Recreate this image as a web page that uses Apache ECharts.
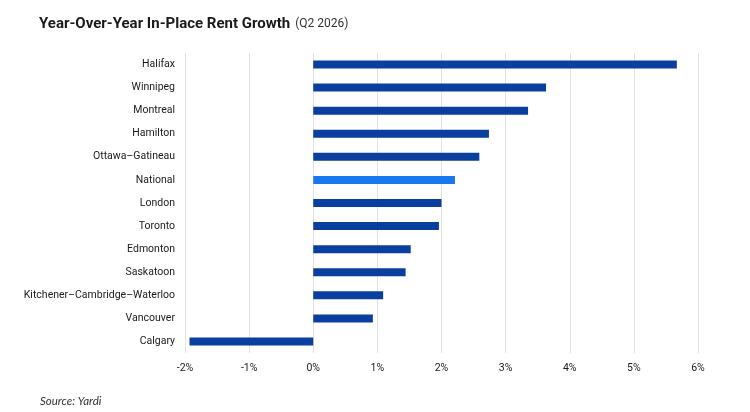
<!DOCTYPE html>
<html>
<head>
<meta charset="utf-8">
<script src="https://cdn.jsdelivr.net/npm/echarts@6/dist/echarts.min.js"></script>
<style>
  html, body { margin: 0; padding: 0; background: #fff; }
  #chart { width: 750px; height: 412px; }
</style>
</head>
<body>
<div id="chart"></div>
<script>
const markets = [
  "Halifax", "Winnipeg", "Montreal", "Hamilton", "Ottawa–Gatineau", "National",
  "London", "Toronto", "Edmonton", "Saskatoon", "Kitchener–Cambridge–Waterloo",
  "Vancouver", "Calgary",
];
const rentGrowth = [5.67, 3.63, 3.35, 2.74, 2.59, 2.21, 2.0, 1.96, 1.52, 1.44, 1.09, 0.93, -1.93];
const highlight = "National";

const barColor = "#0a3f9f";
const highlightColor = "#1679ef";

const chart = echarts.init(document.getElementById("chart"));

chart.setOption({
  animation: false,
  title: [
    {
      text: "{main|Year-Over-Year In-Place Rent Growth} {sub|(Q2 2026)}",
      left: 34,
      top: 10,
      textStyle: {
        rich: {
          main: {
            fontFamily: "Roboto",
            fontWeight: "bold",
            fontSize: 15,
            color: "#1a1a1a",
          },
          sub: {
            fontFamily: "Roboto",
            fontWeight: "normal",
            fontSize: 12,
            color: "#333",
          },
        },
      },
    },
    {
      text: "Source: Yardi",
      left: 35,
      top: 390,
      textStyle: {
        fontFamily: "Lato",
        fontStyle: "italic",
        fontWeight: "normal",
        fontSize: 11.5,
        color: "#333",
      },
    },
  ],
  grid: {
    left: 185,
    right: 52,
    top: 53,
    bottom: 59,
  },
  xAxis: {
    type: "value",
    min: -2,
    max: 6,
    interval: 1,
    axisLine: { show: false },
    axisTick: { show: false },
    splitLine: { lineStyle: { color: "#e3e3e3", width: 1 } },
    axisLabel: {
      formatter: (v) => v + "%",
      color: "#1a1a1a",
      fontFamily: "Roboto",
      fontSize: 10.5,
      margin: 10,
    },
  },
  yAxis: {
    type: "category",
    inverse: true,
    data: markets,
    axisLine: { show: false },
    axisTick: { show: false },
    axisLabel: {
      color: "#1a1a1a",
      fontFamily: "Roboto",
      fontSize: 10.5,
      margin: 10,
    },
  },
  series: [
    {
      type: "bar",
      barWidth: 8,
      data: rentGrowth.map((v, i) => ({
        value: v,
        itemStyle: { color: markets[i] === highlight ? highlightColor : barColor },
      })),
    },
  ],
});
</script>
</body>
</html>
